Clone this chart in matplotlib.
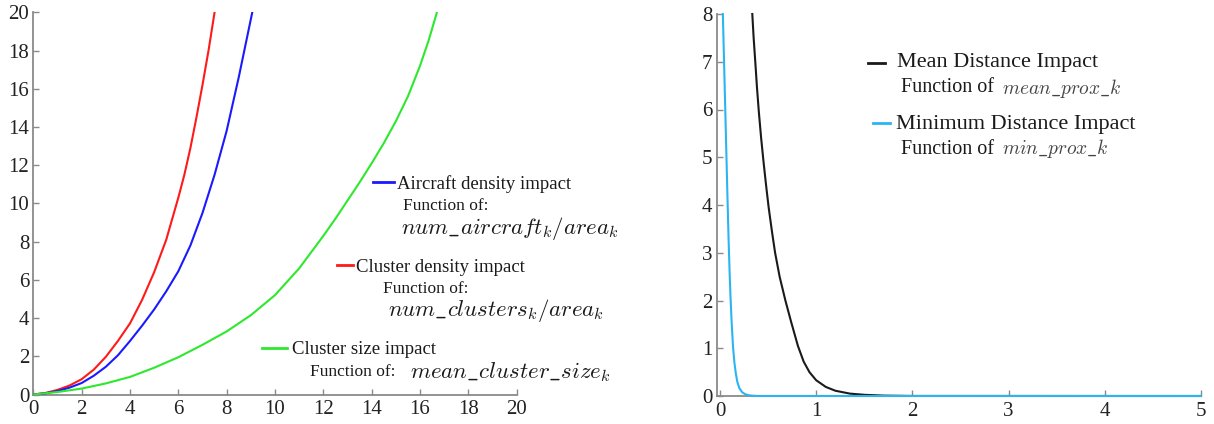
import matplotlib
matplotlib.use("Agg")
import matplotlib.pyplot as plt
from matplotlib.lines import Line2D

plt.rcParams['font.family'] = ['Liberation Serif', 'DejaVu Serif']
plt.rcParams['mathtext.fontset'] = 'cm'

# ---- Left panel data ----
red_x = [0, 0.5, 1, 1.5, 2, 2.5, 3, 3.5, 4, 4.5, 5, 5.5, 6, 6.25, 6.5, 6.75, 7, 7.25, 7.5]
red_y = [0, 0.08, 0.24, 0.47, 0.8, 1.3, 1.97, 2.8, 3.72, 4.95, 6.4, 8.1, 10.3, 11.5, 12.9, 14.5, 16.2, 18.0, 20]

blue_x = [0, 0.5, 1, 1.5, 2, 2.5, 3, 3.5, 4, 4.5, 5, 5.5, 6, 6.5, 7, 7.5, 8, 8.5, 9.06]
blue_y = [0, 0.06, 0.18, 0.36, 0.6, 0.98, 1.45, 2.05, 2.8, 3.6, 4.45, 5.4, 6.45, 7.8, 9.5, 11.5, 13.8, 16.6, 20]

green_x = [0, 1, 2, 3, 4, 5, 6, 7, 8, 9, 10, 11, 12, 12.5, 13, 13.5, 14, 14.5, 15, 15.5, 16, 16.35, 16.7]
green_y = [0, 0.13, 0.31, 0.58, 0.92, 1.4, 1.95, 2.6, 3.3, 4.15, 5.2, 6.6, 8.3, 9.2, 10.15, 11.1, 12.1, 13.15, 14.3, 15.6, 17.2, 18.5, 20]

left_ticks = [0, 2, 4, 6, 8, 10, 12, 14, 16, 18, 20]

# ---- Right panel data ----
mean_x = [0.336, 0.35, 0.367, 0.385, 0.404, 0.428, 0.453, 0.48, 0.506, 0.54, 0.573, 0.62,
          0.68, 0.74, 0.81, 0.87, 0.93, 1.0, 1.1, 1.2, 1.35, 1.5, 1.7, 2.0, 5]
mean_y = [8, 7.5, 7.0, 6.45, 5.95, 5.4, 4.9, 4.4, 3.95, 3.45, 3.0, 2.5,
          2.0, 1.55, 1.05, 0.72, 0.5, 0.33, 0.19, 0.11, 0.05, 0.025, 0.008, 0.001, 0]

min_x = [0.03, 0.04, 0.05, 0.06, 0.07, 0.08, 0.09, 0.1, 0.11, 0.12, 0.135, 0.15, 0.165,
         0.18, 0.2, 0.23, 0.26, 0.3, 0.35, 0.4, 5]
min_y = [8, 7.2, 6.4, 5.6, 4.8, 4.0, 3.25, 2.6, 2.05, 1.6, 1.05, 0.7, 0.47,
         0.3, 0.17, 0.08, 0.04, 0.015, 0.005, 0, 0]

right_xticks = [0, 1, 2, 3, 4, 5]
right_yticks = [0, 1, 2, 3, 4, 5, 6, 7, 8]

W, H = 1214, 424
fig = plt.figure(figsize=(W / 100, H / 100), dpi=100)

def fx(px):
    return px / W

def fy(py):
    return 1 - py / H

axL = fig.add_axes([fx(33.3), fy(394.5), fx(516.7) - fx(33.3), fy(12.3) - fy(394.5)])
axR = fig.add_axes([fx(716.7), fy(396), fx(1201) - fx(716.7), fy(14) - fy(396)])

RED = '#ff1a1a'
BLUE = '#1a1aff'
GREEN = '#2ee82e'
BLACK = '#1a1a1a'
SKY = '#2bb4f2'
lw = 1.5

axL.plot(red_x, red_y, color=RED, lw=lw, zorder=3)
axL.plot(blue_x, blue_y, color=BLUE, lw=lw, zorder=3)
axL.plot(green_x, green_y, color=GREEN, lw=lw, zorder=3)
axL.set_xlim(0, 20)
axL.set_ylim(0, 20)
axL.set_xticks(left_ticks)
axL.set_yticks(left_ticks)

axR.plot(mean_x, mean_y, color=BLACK, lw=lw, clip_on=False, zorder=3)
axR.plot(min_x, min_y, color=SKY, lw=lw, clip_on=False, zorder=4)
axR.set_xlim(-0.034, 5)
axR.set_ylim(0, 8)
axR.set_xticks(right_xticks)
axR.set_yticks(right_yticks)

for ax in (axL, axR):
    for s in ('top', 'right'):
        ax.spines[s].set_visible(False)
    for s in ('left', 'bottom'):
        ax.spines[s].set_color('#8a8a8a')
        ax.spines[s].set_linewidth(1.3)
        ax.spines[s].set_zorder(1)
    ax.tick_params(direction='in', length=4, width=1, color='#8a8a8a',
                   labelsize=15, labelcolor='#222222')
    ax.tick_params(axis='x', pad=4)
    ax.tick_params(axis='y', pad=3)

tc = '#1a1a1a'

def handle(x0, x1, y, color):
    fig.add_artist(Line2D([fx(x0), fx(x1)], [fy(y), fy(y)], color=color, lw=2,
                          transform=fig.transFigure))

def txt(x, y, s, size, color=tc):
    fig.text(fx(x), fy(y), s, ha='left', va='center', fontsize=size, color=color)

# Left legend
handle(373, 394, 182, BLUE)
txt(397, 184, 'Aircraft density impact', 13.5)
txt(403, 206, 'Function of:', 12.5)
txt(401, 229, r'$num\_aircraft_k/area_k$', 16.5)
handle(337, 353, 265, RED)
txt(356, 267, 'Cluster density impact', 13.5)
txt(383, 289, 'Function of:', 12.5)
txt(388, 310, r'$num\_clusters_k/area_k$', 16.5)
handle(262, 287, 348, GREEN)
txt(292, 349, 'Cluster size impact', 13.5)
txt(310, 372, 'Function of:', 12.5)
txt(410, 372, r'$mean\_cluster\_size_k$', 16.5)

# Right legend
handle(868, 885, 63, BLACK)
txt(897, 63, 'Mean Distance Impact', 16)
txt(901, 88, 'Function of', 14.5)
txt(1002, 88, r'$mean\_prox\_k$', 14, color='#444444')
handle(873, 890, 123, SKY)
txt(896, 124, 'Minimum Distance Impact', 16)
txt(901, 149, 'Function of', 14.5)
txt(1002, 149, r'$min\_prox\_k$', 14, color='#444444')

fig.savefig('out.png', dpi=100)
